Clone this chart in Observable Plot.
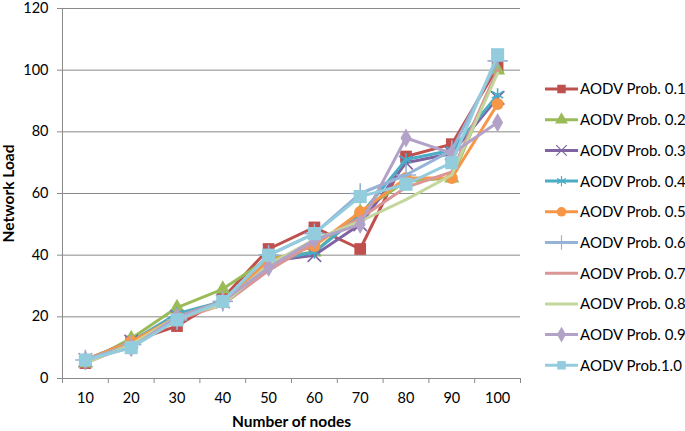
<!DOCTYPE html>
<html><head><meta charset="utf-8">
<script src="https://cdn.jsdelivr.net/npm/d3@7"></script>
<script src="https://cdn.jsdelivr.net/npm/@observablehq/plot@0.6"></script>
<style>
body{margin:0;background:#fff;}
#wrap{position:relative;width:685px;height:431px;font-family:Lato,"Open Sans",sans-serif;}
#wrap svg{font-family:Lato,"Open Sans",sans-serif;}
#legend{position:absolute;left:0;top:0;}
g[aria-label="x-axis label"] text, g[aria-label="y-axis label"] text{font-weight:bold;font-size:15.5px;fill:#000;}
g[aria-label="x-axis tick label"] text, g[aria-label="y-axis tick label"] text{font-size:14.5px;fill:#000;}
</style></head><body><div id="wrap"></div>
<script>
const categories = [10, 20, 30, 40, 50, 60, 70, 80, 90, 100];
const boundaries = [5, 15, 25, 35, 45, 55, 65, 75, 85, 95, 105];
const yTicks = [0, 20, 40, 60, 80, 100, 120];
const seriesNames = ["AODV Prob. 0.1","AODV Prob. 0.2","AODV Prob. 0.3","AODV Prob. 0.4","AODV Prob. 0.5","AODV Prob. 0.6","AODV Prob. 0.7","AODV Prob. 0.8","AODV Prob. 0.9","AODV Prob.1.0"];
const p01 = [5, 12, 17, 26, 42, 49, 42, 72, 76, 101];
const p02 = [5, 13, 23, 29, 39, 41, 54, 64, 65, 100];
const p03 = [6, 12, 20, 25, 38, 40, 50, 70, 73, 91];
const p04 = [6, 12, 21, 25, 38, 41, 53, 71, 74, 92];
const p05 = [6, 12, 20, 25, 38, 43, 54, 65, 65, 89];
const p06 = [6, 11, 19, 25, 40, 47, 60, 66, 74, 103];
const p07 = [5, 11, 19, 24, 35, 44, 52, 62, 67, 100];
const p08 = [5, 11, 20, 24, 37, 45, 51, 58, 66, 99];
const p09 = [6, 10, 20, 25, 36, 45, 50, 78, 73, 83];
const p10 = [6, 10, 19, 25, 40, 47, 59, 63, 70, 105];
const seriesValues = [p01, p02, p03, p04, p05, p06, p07, p08, p09, p10];
const colors = ["#C0504D","#9BBB59","#8064A2","#4BACC6","#F79646","#95B3D7","#D99694","#C3D69B","#B3A2C7","#93CDDD"];
const symbols = ["square","triangle","times","asterisk","circle","plus",null,null,"diamond","square"];
const strokeSymbols = new Set(["times","asterisk","plus"]);
const markerR = {square: 6.6, triangle: 5.6, times: 6.2, asterisk: 6.2, circle: 6, plus: 6.6, diamond: 5.8};

const marks = [
  Plot.gridY(yTicks, {stroke: "#8a8a8a", strokeOpacity: 1}),
  Plot.ruleX([5], {stroke: "#8a8a8a"}),
  Plot.ruleY([0], {stroke: "#8a8a8a"}),
  Plot.axisY(yTicks, {tickSize: 5, tickPadding: 9, stroke: "#8a8a8a", label: "Network Load", labelAnchor: "center", labelOffset: 60, labelArrow: "none"}),
  Plot.axisX(boundaries, {tickSize: 5, stroke: "#8a8a8a", tickFormat: () => "", label: null}),
  Plot.axisX(categories, {tickSize: 0, tickPadding: 14, label: "Number of nodes", labelAnchor: "center", labelOffset: 48, labelArrow: "none"})
];

seriesNames.forEach((name, i) => {
  const rows = categories.map((c, j) => ({x: c, y: seriesValues[i][j]}));
  marks.push(Plot.line(rows, {x: "x", y: "y", stroke: colors[i], strokeWidth: 3}));
  const s = symbols[i];
  if (s) {
    const r = i === 9 ? 7.4 : markerR[s];
    if (strokeSymbols.has(s)) {
      marks.push(Plot.dot(rows, {x: "x", y: "y", symbol: () => s, stroke: colors[i], strokeWidth: 1.6, r}));
    } else {
      marks.push(Plot.dot(rows, {x: "x", y: "y", symbol: () => s, fill: colors[i], stroke: "none", r}));
    }
  }
});

const chart = Plot.plot({
  width: 685, height: 431,
  marginLeft: 62, marginRight: 165, marginTop: 8, marginBottom: 53,
  x: {type: "linear", domain: [5, 105], axis: null},
  y: {domain: [0, 120], axis: null},
  style: {background: "#fff", overflow: "visible"},
  marks
});
document.getElementById("wrap").appendChild(chart);

// legend
const symMap = {square: d3.symbolSquare, triangle: d3.symbolTriangle, times: d3.symbolTimes, asterisk: d3.symbolAsterisk, circle: d3.symbolCircle, plus: d3.symbolPlus, diamond: d3.symbolDiamond};
const leg = d3.select("#wrap").append("svg").attr("id", "legend").attr("width", 685).attr("height", 431);
seriesNames.forEach((name, i) => {
  const y = 89 + i * 30.7;
  const g = leg.append("g");
  g.append("line").attr("x1", 545).attr("x2", 578).attr("y1", y).attr("y2", y).attr("stroke", colors[i]).attr("stroke-width", 3);
  const s = symbols[i];
  if (s) {
    const path = d3.symbol(symMap[s], 4.8 * 4.8 * Math.PI)();
    const p = g.append("path").attr("d", path).attr("transform", `translate(561.5,${y})`);
    if (strokeSymbols.has(s)) p.attr("fill", "none").attr("stroke", colors[i]).attr("stroke-width", 1.2);
    else p.attr("fill", colors[i]);
  }
  g.append("text").attr("x", 580).attr("y", y).attr("dy", "0.36em").attr("font-size", 15).attr("fill", "#000").text(name);
});
</script></body></html>
